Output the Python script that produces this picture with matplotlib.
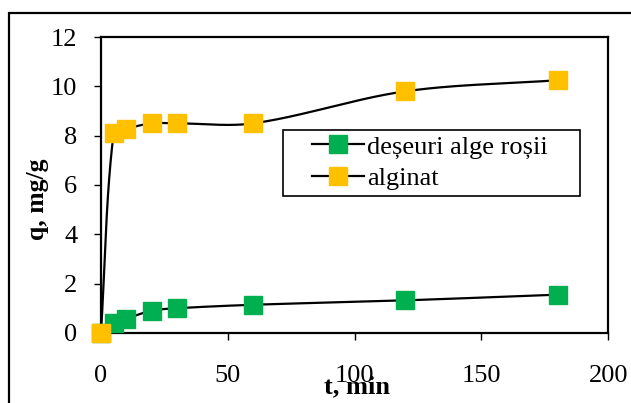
import numpy as np
import matplotlib
matplotlib.use("Agg")
import matplotlib.pyplot as plt
from matplotlib.patches import Rectangle

plt.rcParams['font.family'] = ['Liberation Serif', 'DejaVu Serif']

# timp de contact (min) si capacitate de sorbtie q (mg/g)
t = [0, 5, 10, 20, 30, 60, 120, 180]
q_alge = [0, 0.42, 0.58, 0.9, 1.0, 1.14, 1.32, 1.55]
q_alginat = [0, 8.1, 8.28, 8.5, 8.5, 8.5, 9.8, 10.25]

W, H = 631, 403
pozitie = [0.160, 0.174, 0.804, 0.734]


def netezire(x, y, sx, sy, n=60):
    # curba neteda (Bezier), tangente scalate cu lungimea segmentelor pe ecran
    p = np.column_stack([np.asarray(x, float) * sx, np.asarray(y, float) * sy])
    ext = np.vstack([p[0], p, p[-1]])
    d = np.r_[0, np.hypot(*np.diff(p, axis=0).T), 0]
    s = np.linspace(0, 1, n)[:, None]
    rez = []
    for i in range(len(p) - 1):
        p0, p3 = p[i], p[i + 1]
        di = d[i + 1]
        c1 = p0 + (ext[i + 2] - ext[i]) * di / (d[i] + di) / 3
        c2 = p3 - (ext[i + 3] - ext[i + 1]) * di / (di + d[i + 2]) / 3
        rez.append((1 - s) ** 3 * p0 + 3 * (1 - s) ** 2 * s * c1
                   + 3 * (1 - s) * s ** 2 * c2 + s ** 3 * p3)
    b = np.vstack(rez)
    return b[:, 0] / sx, b[:, 1] / sy


fig = plt.figure(figsize=(W / 100, H / 100), dpi=100)
ax = fig.add_axes(pozitie)
ax.set_xlim(0, 200)
ax.set_ylim(0, 12)
sx = pozitie[2] * W / 200
sy = pozitie[3] * H / 12

for q, culoare, eticheta in [(q_alge, '#00B050', 'deșeuri alge roșii'),
                             (q_alginat, '#FFC000', 'alginat')]:
    xs, ys = netezire(t, q, sx, sy)
    ax.plot(xs, ys, color='black', lw=1.6, zorder=2)
    ax.plot(t, q, ls='none', marker='s', ms=13, mfc=culoare, mec=culoare,
            zorder=3, clip_on=False)
    ax.plot([], [], color='black', lw=1.6, marker='s', ms=13, mfc=culoare,
            mec=culoare, label=eticheta)

ax.set_xticks([0, 50, 100, 150, 200])
ax.set_yticks([0, 2, 4, 6, 8, 10, 12])
ax.tick_params(direction='out', length=5, width=1, labelsize=19)
ax.tick_params(axis='x', pad=18)
ax.tick_params(axis='y', pad=12)
for sp in ax.spines.values():
    sp.set_linewidth(1.6)

fig.text(0.566, 0.025, 't, min', fontsize=19, fontweight='bold', ha='center')
fig.text(0.059, 0.506, 'q, mg/g', fontsize=18.5, fontweight='bold',
         rotation=90, ha='center', va='center')

leg = ax.legend(loc='upper left', bbox_to_anchor=(312 / W, 1 - 135 / H),
                bbox_transform=fig.transFigure, fontsize=19, frameon=False,
                handlelength=1.97, handletextpad=0.12, borderpad=0,
                labelspacing=0.32, borderaxespad=0)

# chenarul legendei
fig.patches.append(Rectangle((283 / W, 1 - 196 / H), 297 / W, 66 / H,
                             transform=fig.transFigure, fill=False,
                             edgecolor='black', lw=1.2, zorder=5))
# chenarul exterior al graficului
fig.patches.append(Rectangle((9 / W, -0.2), 1.2, (H - 13) / H + 0.2,
                             transform=fig.transFigure, fill=False,
                             edgecolor='black', lw=1.6))

fig.savefig('out.png', dpi=100)
